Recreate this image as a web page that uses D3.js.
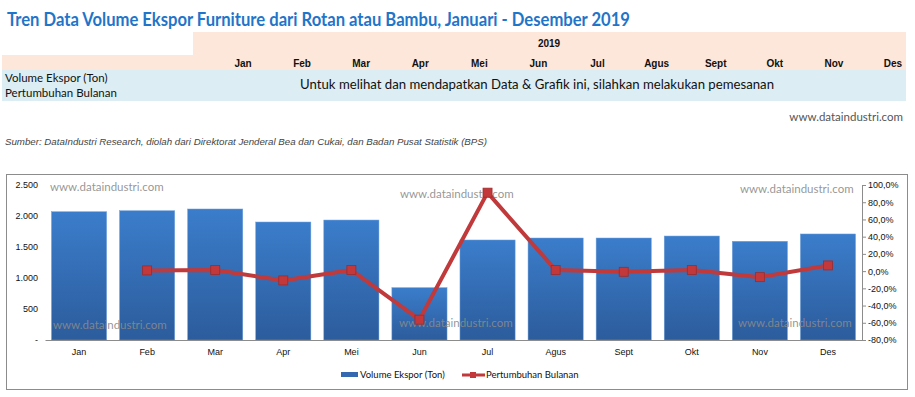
<!DOCTYPE html>
<html><head><meta charset="utf-8">
<script src="https://cdn.jsdelivr.net/npm/d3@7"></script>
<style>body{margin:0;background:#fff}svg{display:block}</style>
</head><body>
<script>
const months = ["Jan","Feb","Mar","Apr","Mei","Jun","Jul","Agus","Sept","Okt","Nov","Des"];
const volume = [2069,2085,2113,1903,1935,844,1613,1645,1645,1677,1592,1710];
const growth = [null,0.8,1.3,-10.8,1.2,-56.4,91.1,1.2,-0.8,1.2,-7.0,6.6];
const leftTicks = [0,500,1000,1500,2000,2500];
const rightTicks = [-80,-60,-40,-20,0,20,40,60,80,100];

const W=915,H=397;
const svg=d3.select("body").append("svg").attr("width",W).attr("height",H);
const calibri="Lato, 'Open Sans', sans-serif";
const arial="'Liberation Sans', Arial, sans-serif";

// Title
svg.append("text").attr("x",7).attr("y",26).attr("font-family",calibri).attr("font-weight","bold")
 .attr("font-size",19).attr("fill","#1F75C9").attr("textLength",623).attr("lengthAdjust","spacingAndGlyphs")
 .text("Tren Data Volume Ekspor Furniture dari Rotan atau Bambu, Januari - Desember 2019");

// Table
svg.append("rect").attr("x",193).attr("y",32).attr("width",713).attr("height",38).attr("fill","#FCE7DA");
svg.append("rect").attr("x",2).attr("y",55).attr("width",904).attr("height",15).attr("fill","#FCE7DA");
svg.append("rect").attr("x",2).attr("y",70).attr("width",904).attr("height",31).attr("fill","#DCEEF3");
svg.append("text").attr("x",549).attr("y",47).attr("text-anchor","middle").attr("font-family",arial)
 .attr("font-weight","bold").attr("font-size",10).attr("fill","#111").text("2019");
const headX=d3.scalePoint().domain(months).range([243,893]);
svg.selectAll("text.mh").data(months).enter().append("text").attr("class","mh")
 .attr("x",d=>headX(d)).attr("y",67).attr("text-anchor","middle").attr("font-family",arial)
 .attr("font-weight","bold").attr("font-size",10).attr("fill","#111").text(d=>d);
svg.append("text").attr("x",5).attr("y",82).attr("font-family",calibri).attr("font-size",11.5).attr("fill","#111").text("Volume Ekspor (Ton)");
svg.append("text").attr("x",5).attr("y",97).attr("font-family",calibri).attr("font-size",11.5).attr("fill","#111").text("Pertumbuhan Bulanan");
svg.append("text").attr("x",537).attr("y",89).attr("text-anchor","middle").attr("font-family",calibri).attr("font-size",13.5).attr("fill","#111")
 .attr("textLength",474).attr("lengthAdjust","spacingAndGlyphs")
 .text("Untuk melihat dan mendapatkan Data & Grafik ini, silahkan melakukan pemesanan");
svg.append("text").attr("x",903).attr("y",121).attr("text-anchor","end").attr("font-family",calibri).attr("font-size",11.5).attr("fill","#555").text("www.dataindustri.com");
svg.append("text").attr("x",5).attr("y",145).attr("font-family",arial).attr("font-style","italic").attr("font-size",9.5).attr("fill","#444")
 .attr("textLength",482).attr("lengthAdjust","spacingAndGlyphs")
 .text("Sumber: DataIndustri Research, diolah dari Direktorat Jenderal Bea dan Cukai, dan Badan Pusat Statistik (BPS)");

// Chart box
svg.append("rect").attr("x",6.5).attr("y",174.5).attr("width",901).attr("height",215).attr("fill","#fff").attr("stroke","#8c8c8c").attr("stroke-width",1);

const defs=svg.append("defs");
const g=defs.append("linearGradient").attr("id","bg").attr("x1",0).attr("y1",0).attr("x2",0).attr("y2",1);
g.append("stop").attr("offset","0%").attr("stop-color","#3B7DCB");
g.append("stop").attr("offset","100%").attr("stop-color","#2C5C9C");

const x=d3.scaleBand().domain(months).range([45,862]).paddingInner(0.19).paddingOuter(0.095);
const y=d3.scaleLinear().domain([0,2500]).range([340,185]);
const y2=d3.scaleLinear().domain([-80,100]).range([340,185]);

// Bars
svg.selectAll("rect.bar").data(volume).enter().append("rect").attr("class","bar")
 .attr("x",(d,i)=>x(months[i])).attr("y",d=>y(d)).attr("width",x.bandwidth()).attr("height",d=>y(0)-y(d))
 .attr("fill","url(#bg)").attr("stroke","#6FA0DA").attr("stroke-width",0.5);

// Watermarks
const wm=[[50,191],[400,198],[740,193],[53,329],[399,327],[738,327]];
svg.selectAll("text.wm").data(wm).enter().append("text").attr("class","wm").attr("x",d=>d[0]).attr("y",d=>d[1])
 .attr("font-family",calibri).attr("font-size",11.5).attr("fill","#8a8a8a").attr("fill-opacity",0.9).text("www.dataindustri.com");

// Bottom axis
const xa=svg.append("g").attr("transform","translate(0,340)").call(d3.axisBottom(x).tickSize(0).tickPadding(9));
xa.select(".domain").attr("stroke","#8c8c8c");
xa.selectAll("text").attr("font-family",arial).attr("font-size",9).attr("fill","#111");

// Left axis
const fmtL=d=>d===0?"-":d3.format(",")(d).replace(/,/g,".");
const ya=svg.append("g").attr("transform","translate(38,0)").call(d3.axisLeft(y).tickValues(leftTicks).tickSize(0).tickPadding(0).tickFormat(fmtL));
ya.select(".domain").remove();
ya.selectAll("text").attr("font-family",arial).attr("font-size",9).attr("fill","#111");

// Right axis
const fmtR=d=>d.toFixed(1).replace(".",",")+"%";
const yb=svg.append("g").attr("transform","translate(862,0)").call(d3.axisRight(y2).tickValues(rightTicks).tickSize(4).tickSizeOuter(0).tickPadding(2).tickFormat(fmtR));
yb.select(".domain").attr("stroke","#8c8c8c");
yb.selectAll("line").attr("stroke","#8c8c8c");
yb.selectAll("text").attr("font-family",arial).attr("font-size",9).attr("fill","#111");

// Line
const pts=growth.map((v,i)=>({v,m:months[i]})).filter(d=>d.v!==null);
const line=d3.line().x(d=>x(d.m)+x.bandwidth()/2).y(d=>y2(d.v));
svg.append("path").datum(pts).attr("d",line).attr("fill","none").attr("stroke","#C0393B").attr("stroke-width",4).attr("stroke-linejoin","round");
svg.selectAll("rect.mk").data(pts).enter().append("rect").attr("class","mk")
 .attr("x",d=>x(d.m)+x.bandwidth()/2-4.5).attr("y",d=>y2(d.v)-4.5).attr("width",9).attr("height",9)
 .attr("fill","#C3383A").attr("stroke","#A02A2C").attr("stroke-width",0.8);

// Legend
svg.append("rect").attr("x",341).attr("y",372).attr("width",17).attr("height",5).attr("fill","#3468B0");
svg.append("text").attr("x",360).attr("y",378).attr("font-family",calibri).attr("font-size",9.5).attr("fill","#111").text("Volume Ekspor (Ton)");
svg.append("line").attr("x1",462).attr("x2",485).attr("y1",375).attr("y2",375).attr("stroke","#C0393B").attr("stroke-width",3);
svg.append("rect").attr("x",470).attr("y",372).attr("width",6).attr("height",6).attr("fill","#C3383A");
svg.append("text").attr("x",486).attr("y",378).attr("font-family",calibri).attr("font-size",9.5).attr("fill","#111").text("Pertumbuhan Bulanan");
</script>
</body></html>
